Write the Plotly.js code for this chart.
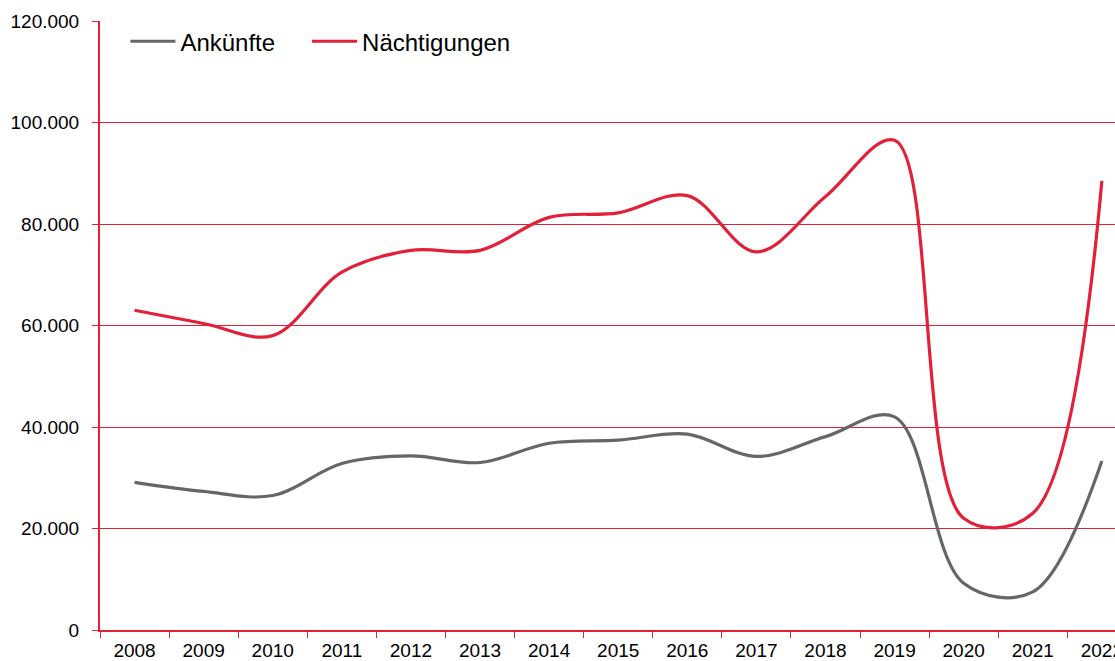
<!DOCTYPE html>
<html>
<head>
<meta charset="utf-8">
<script src="https://cdn.plot.ly/plotly-3.0.1.min.js"></script>
<style>
html, body { margin: 0; padding: 0; background: #fff; overflow: hidden; }
#chart { width: 1115px; height: 661px; }
</style>
</head>
<body>
<div id="chart"></div>
<script>
const years = ["2008","2009","2010","2011","2012","2013","2014","2015","2016","2017","2018","2019","2020","2021","2022"];
const ankuenfte = [29100, 27300, 26500, 32800, 34300, 33000, 36800, 37400, 38600, 34200, 38100, 42000, 9200, 7500, 33300];
const naechtigungen = [63000, 60400, 58000, 70500, 74800, 74800, 81300, 82200, 85600, 74500, 85400, 96500, 22000, 23000, 88500];
const seriesNames = ["Ankünfte", "Nächtigungen"];

const RED = "#e3203a";
const GRAY = "#666666";

const traces = [
  { x: years, y: ankuenfte, name: seriesNames[0], type: "scatter", mode: "lines", legend: "legend",
    line: { color: GRAY, width: 3.2, shape: "spline", smoothing: 1 } },
  { x: years, y: naechtigungen, name: seriesNames[1], type: "scatter", mode: "lines", legend: "legend2",
    line: { color: RED, width: 3.2, shape: "spline", smoothing: 1 } }
];

const legendBase = {
  orientation: "h", y: 1.003, xanchor: "left", yanchor: "top",
  bgcolor: "rgba(0,0,0,0)", font: { size: 24, color: "#000" },
  itemwidth: 45
};

const layout = {
  width: 1115, height: 661,
  margin: { l: 100, r: 0, t: 21, b: 31, pad: 0 },
  paper_bgcolor: "#ffffff", plot_bgcolor: "#ffffff",
  separators: ",.",
  font: { family: "Liberation Sans, Arial, sans-serif", color: "#000000", size: 19 },
  showlegend: true,
  legend: Object.assign({}, legendBase, { x: 0.025 }),
  legend2: Object.assign({}, legendBase, { x: 0.204 }),
  xaxis: {
    type: "category", range: [-0.5, 14.19], fixedrange: true,
    showline: true, linecolor: RED, linewidth: 2,
    ticks: "outside", tickson: "boundaries", ticklen: 6, tickcolor: RED, tickwidth: 1,
    showgrid: false, zeroline: false, ticklabelstandoff: 2,
    tickfont: { size: 19, color: "#000" }
  },
  yaxis: {
    range: [0, 120000], dtick: 20000, tick0: 0, tickformat: ",d",
    showline: true, linecolor: RED, linewidth: 2,
    ticks: "outside", ticklen: 6, tickcolor: RED, tickwidth: 1,
    showgrid: true, gridcolor: RED, gridwidth: 1, zeroline: false,
    ticklabelstandoff: 9,
    tickfont: { size: 19, color: "#000" }
  }
};

Plotly.newPlot("chart", traces, layout, { displayModeBar: false, staticPlot: true });
</script>
</body>
</html>
